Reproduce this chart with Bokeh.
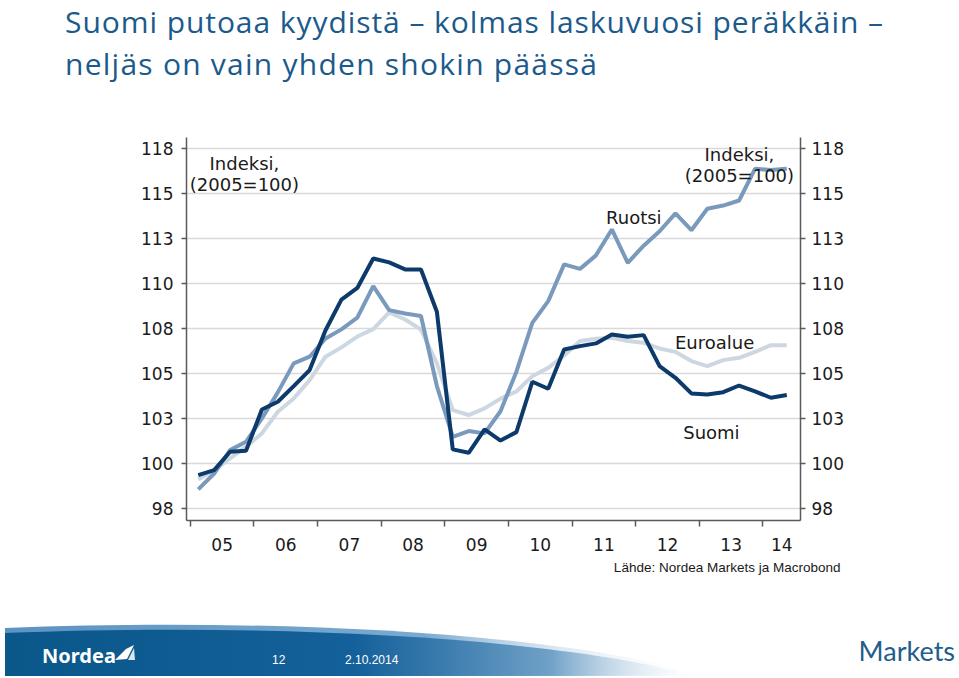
from bokeh.plotting import figure
from bokeh.models import Range1d, LinearAxis, FixedTicker, Label, ColumnDataSource, Title, Div
from bokeh.layouts import column
from bokeh.embed import file_html
from bokeh.resources import INLINE

# ---------------- data (quarterly, index 2005=100) ----------------
quarters = [f"{y}Q{q}" for y in range(2005, 2015) for q in range(1, 5)][:38]

suomi = [99.35, 99.63, 100.65, 100.7, 103.0, 103.43, 104.3, 105.19, 107.4, 109.1,
         109.75, 111.39, 111.17, 110.78, 110.78, 108.43, 100.78, 100.59, 101.89, 101.27,
         101.74, 104.54, 104.15, 106.33, 106.52, 106.67, 107.17, 107.04, 107.13, 105.41,
         104.76, 103.89, 103.83, 103.96, 104.33, 104.0, 103.65, 103.8]

ruotsi = [98.56, 99.44, 100.74, 101.2, 102.5, 103.95, 105.56, 105.93, 106.94, 107.45,
          108.1, 109.85, 108.52, 108.33, 108.19, 104.3, 101.48, 101.8, 101.67, 102.9,
          105.1, 107.81, 109.02, 111.06, 110.81, 111.56, 113.0, 111.15, 112.1, 112.9,
          113.89, 112.96, 114.15, 114.33, 114.61, 116.37, 116.3, 116.37]

euroalue = [99.11, 99.63, 100.28, 100.93, 101.67, 102.87, 103.61, 104.63, 105.93, 106.45,
            107.05, 107.46, 108.39, 108.0, 107.44, 105.56, 102.96, 102.69, 103.06, 103.6,
            104.0, 104.85, 105.31, 106.0, 106.8, 106.93, 106.98, 106.8, 106.7, 106.39,
            106.2, 105.69, 105.41, 105.74, 105.87, 106.2, 106.57, 106.57]

year_ticks = list(range(2005, 2015))
xtick_labels = ["05", "06", "07", "08", "09", "10", "11", "12", "13", "14"]
ytick_values = [97.5, 100, 102.5, 105, 107.5, 110, 112.5, 115, 117.5]
ytick_labels = ["98", "100", "103", "105", "108", "110", "113", "115", "118"]

title_lines = ["Suomi putoaa kyydistä – kolmas laskuvuosi peräkkäin –",
               "neljäs on vain yhden shokin päässä"]
source_text = "Lähde: Nordea Markets ja Macrobond"

# ---------------- derived ----------------
x_start, x_end = 2004.94, 2014.59
y_start, y_end = 96.83, 118.11

xs = [int(q[:4]) + (int(q[-1]) - 0.5) / 4 for q in quarters]
xlabel_pos = [(y + min(y + 1, x_end)) / 2 for y in year_ticks]

src = ColumnDataSource(dict(x=xs, suomi=suomi, ruotsi=ruotsi, euro=euroalue))

W = 958
TOP = 90          # height of the title block
H = 620 - TOP     # chart height
p = figure(width=W, height=H, x_range=Range1d(x_start, x_end), y_range=Range1d(y_start, y_end),
           output_backend="svg", toolbar_location=None,
           min_border_left=186, min_border_right=W - 800, min_border_top=137 - TOP,
           min_border_bottom=H - (520 - TOP))
p.title.visible = False
p.outline_line_color = None
p.background_fill_color = "white"
p.border_fill_color = "white"

TXT = "#1a1a1a"
AX = "#5a5a5a"

# x axis: labels between year ticks
xa = p.xaxis[0]
xa.ticker = FixedTicker(ticks=xlabel_pos, minor_ticks=year_ticks)
xa.major_label_overrides = {pos: lab for pos, lab in zip(xlabel_pos, xtick_labels)}
xa.major_tick_out = 0
xa.major_tick_in = 0
xa.minor_tick_out = 6
xa.minor_tick_in = 0
xa.minor_tick_line_color = AX
xa.minor_tick_line_width = 1.5
xa.axis_line_color = AX
xa.axis_line_width = 1.5
xa.major_label_text_font = "DejaVu Sans"
xa.major_label_text_font_size = "17px"
xa.major_label_text_color = TXT
xa.major_label_standoff = 11
p.xgrid.visible = False

# y axes
yt = FixedTicker(ticks=ytick_values)
ya = p.yaxis[0]
ya.ticker = yt
p.ygrid[0].ticker = yt
p.ygrid.grid_line_color = "#d9d9d9"
p.ygrid.grid_line_width = 1.5
ya_r = LinearAxis(ticker=yt)
p.add_layout(ya_r, "right")
for ax, so in ((ya, 8), (ya_r, 6)):
    ax.major_label_overrides = {v: l for v, l in zip(ytick_values, ytick_labels)}
    ax.major_tick_out = 5
    ax.major_tick_in = 0
    ax.minor_tick_out = 0
    ax.minor_tick_in = 0
    ax.major_tick_line_color = AX
    ax.major_tick_line_width = 1.5
    ax.axis_line_color = AX
    ax.axis_line_width = 1.5
    ax.major_label_text_font = "DejaVu Sans"
    ax.major_label_text_font_size = "17px"
    ax.major_label_text_color = TXT
    ax.major_label_standoff = so

# lines
p.line("x", "euro", source=src, line_color="#cdd7e1", line_width=4)
p.line("x", "ruotsi", source=src, line_color="#7a9abd", line_width=4)
p.line("x", "suomi", source=src, line_color="#0c3a6a", line_width=4)

# in-chart labels (data units)
def lab(x, y, text, align="center", size="18px"):
    p.add_layout(Label(x=x, y=y, text=text, text_align=align, text_baseline="alphabetic",
                       text_font="DejaVu Sans", text_font_size=size, text_color=TXT))

lab(2005.85, 116.67, "Indeksi,")
lab(2005.85, 115.50, "(2005=100)")
lab(2013.63, 117.17, "Indeksi,")
lab(2013.63, 116.00, "(2005=100)")
lab(2011.97, 113.67, "Ruotsi")
lab(2013.24, 106.72, "Euroalue")
lab(2013.19, 101.72, "Suomi")

p.add_layout(Title(text=source_text, align="right", offset=800 - 840, standoff=12,
                   vertical_align="top", text_font="Liberation Sans", text_font_size="13.5px",
                   text_font_style="normal", text_color=TXT), "below")

# ---------------- title block ----------------
TS = "font-family:'Open Sans';font-size:30px;fill:#1c5a8c"
title_svg = f"""
<svg xmlns="http://www.w3.org/2000/svg" width="{W}" height="{TOP}" style="display:block">
 <text x="65" y="33" textLength="818" lengthAdjust="spacing" style="{TS}">{title_lines[0]}</text>
 <text x="65" y="75" textLength="532" lengthAdjust="spacing" style="{TS}">{title_lines[1]}</text>
</svg>
"""
header = Div(text=title_svg, width=W, height=TOP, margin=0)

# ---------------- footer band ----------------
footer_svg = """
<svg xmlns="http://www.w3.org/2000/svg" width="958" height="56" viewBox="0 620 958 56" style="display:block">
 <defs>
  <linearGradient id="gDark" x1="5" y1="0" x2="705" y2="0" gradientUnits="userSpaceOnUse">
   <stop offset="0" stop-color="#0a578a"/>
   <stop offset="0.5" stop-color="#14609a"/>
   <stop offset="0.78" stop-color="#5e95c0" stop-opacity="0.85"/>
   <stop offset="1" stop-color="#ffffff" stop-opacity="0"/>
  </linearGradient>
  <linearGradient id="gLight" x1="5" y1="0" x2="705" y2="0" gradientUnits="userSpaceOnUse">
   <stop offset="0" stop-color="#5b93c2"/>
   <stop offset="0.6" stop-color="#7aaad0"/>
   <stop offset="1" stop-color="#ffffff" stop-opacity="0"/>
  </linearGradient>
 </defs>
 <path d="M5,628 C250,618 550,630 705,675 L5,676 Z" fill="url(#gLight)"/>
 <path d="M5,633 C250,623 550,635 700,677 L5,677 Z" fill="url(#gDark)"/>
 <text x="42" y="663" style="font-family:'Noto Sans';font-weight:bold;font-size:20px;fill:#ffffff">Nordea</text>
 <polygon points="115,660 126,649 134,645 127,659" fill="#ffffff"/>
 <polygon points="128,660 134,648 135,660" fill="#ffffff" fill-opacity="0.85"/>
 <text x="272" y="664" style="font-family:'Liberation Sans';font-size:12px;fill:#ffffff">12</text>
 <text x="345" y="664" style="font-family:'Liberation Sans';font-size:12px;fill:#ffffff">2.10.2014</text>
 <text x="955" y="661" text-anchor="end" style="font-family:Lato;font-size:27px;fill:#235d8c">Markets</text>
</svg>
"""
footer = Div(text=footer_svg, width=W, height=56, margin=0)

layout = column(header, p, footer, spacing=0)
open("out.html", "w").write(file_html(layout, INLINE))
